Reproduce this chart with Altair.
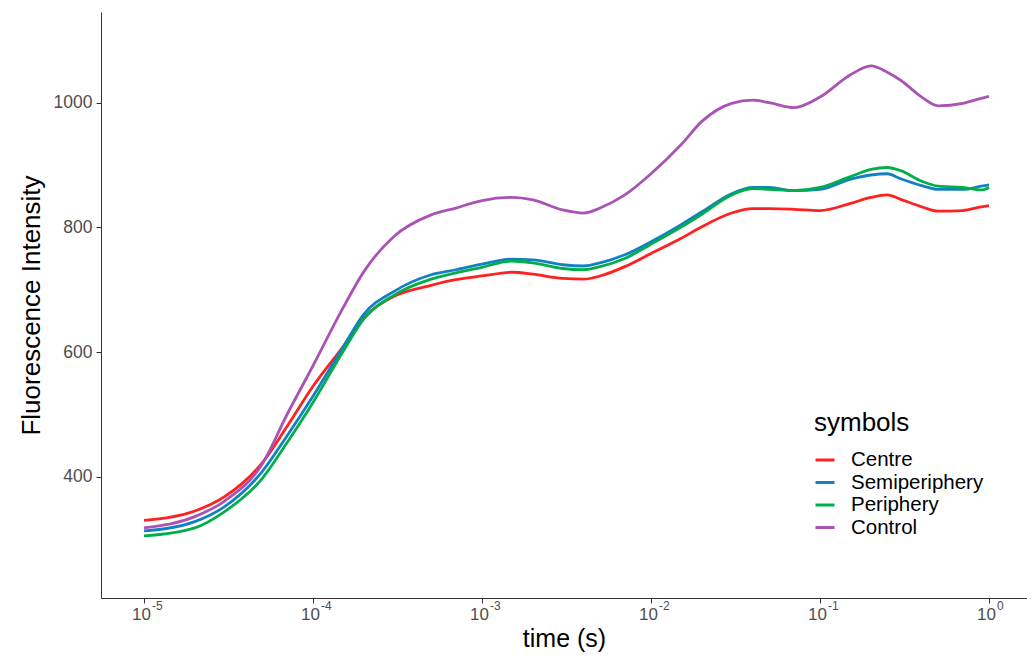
import altair as alt
import pandas as pd

# time points (s)
times = [1e-5, 2e-5, 3e-5, 5e-5, 7e-5, 1e-4, 1.5e-4, 2e-4, 3e-4, 5e-4, 7e-4,
         1e-3, 1.5e-3, 2e-3, 3e-3, 4e-3, 5e-3, 7e-3, 1e-2, 1.5e-2, 2e-2, 3e-2,
         4e-2, 5e-2, 7e-2, 1e-1, 1.5e-1, 2e-1, 2.5e-1, 3e-1, 4e-1, 5e-1, 7e-1,
         0.9, 1.0]

centre = [330, 345, 368, 422, 480, 545, 608, 655, 689, 707, 716,
          722, 728, 725, 718, 717, 722, 737, 758, 782, 801, 823,
          830, 830, 829, 827, 838, 848, 852, 845, 833, 826, 827,
          833, 835]

semiperiphery = [313, 328, 352, 408, 465, 529, 607, 661, 697, 724, 732,
                 741, 749, 748, 740, 738, 743, 756, 777, 804, 825, 854,
                 864, 864, 859, 861, 877, 884, 886, 878, 867, 861, 861,
                 866, 868]

periphery = [305, 318, 344, 397, 454, 519, 600, 653, 691, 717, 727,
             736, 746, 743, 734, 732, 737, 750, 773, 800, 821, 852,
             862, 861, 859, 864, 881, 893, 896, 891, 874, 866, 864,
             860, 864]

control = [318, 336, 361, 420, 499, 578, 670, 729, 785, 820, 831,
           843, 848, 844, 828, 823, 831, 852, 886, 932, 970, 999,
           1004, 1000, 992, 1009, 1044, 1059, 1049, 1036, 1009, 995, 999,
           1007, 1010]

series_names = ["Centre", "Semiperiphery", "Periphery", "Control"]
series_colors = ["#FF2020", "#1480C4", "#00AF4A", "#A953B4"]
x_ticks = [1e-5, 1e-4, 1e-3, 1e-2, 1e-1, 1.0]
x_tick_base = ["10", "10", "10", "10", "10", "10"]
x_tick_exp = ["-5", "-4", "-3", "-2", "-1", "0"]
y_ticks = [400, 600, 800, 1000]

PLOT_W, PLOT_H = 926, 586

rows = []
for name, vals in zip(series_names, [centre, semiperiphery, periphery, control]):
    for t, v in zip(times, vals):
        rows.append({"time": t, "value": v, "symbols": name})
df = pd.DataFrame(rows)

ticks_df = pd.DataFrame({"time": x_ticks, "base": x_tick_base, "exp": x_tick_exp})

x_scale = alt.Scale(type="log", domain=[10 ** -5.2544, 10 ** 0.2248], nice=False)
y_scale = alt.Scale(domain=[205.4, 1145.5], nice=False, zero=False)

lines = alt.Chart(df).mark_line(strokeWidth=2.8, interpolate="monotone").encode(
    x=alt.X("time:Q", scale=x_scale,
            axis=alt.Axis(values=x_ticks, labels=False, title="time (s)",
                          grid=False, tickSize=5, titlePadding=23,
                          titleFontSize=25, titleColor="#000000",
                          domainColor="#333333", tickColor="#333333",
                          titleFontWeight="normal")),
    y=alt.Y("value:Q", scale=y_scale,
            axis=alt.Axis(values=y_ticks, format="d", title="Fluorescence Intensity",
                          grid=False, tickSize=5, labelPadding=4, titlePadding=9,
                          labelFontSize=17.5, titleFontSize=26, labelColor="#4D4D4D",
                          titleColor="#000000", domainColor="#333333", tickColor="#333333",
                          titleFontWeight="normal", labelFlush=False)),
    color=alt.Color("symbols:N",
                    scale=alt.Scale(domain=series_names, range=series_colors),
                    legend=alt.Legend(orient="none", legendX=713, legendY=398,
                                      title="symbols", titleFontSize=26,
                                      titleFontWeight="normal", titleColor="#000000",
                                      labelFontSize=20.5, labelColor="#000000",
                                      symbolType="stroke", symbolSize=361,
                                      symbolStrokeWidth=3, labelOffset=15,
                                      rowPadding=0.5, titlePadding=13)),
)

tick_base = alt.Chart(ticks_df).mark_text(
    fontSize=17, color="#4D4D4D", align="right", baseline="middle", dx=7
).encode(
    x=alt.X("time:Q", scale=x_scale),
    y=alt.value(PLOT_H + 17),
    text="base:N",
)

tick_exp = alt.Chart(ticks_df).mark_text(
    fontSize=12, color="#4D4D4D", align="left", baseline="middle", dx=8
).encode(
    x=alt.X("time:Q", scale=x_scale),
    y=alt.value(PLOT_H + 8),
    text="exp:N",
)

chart = alt.layer(lines, tick_base, tick_exp).properties(
    width=PLOT_W, height=PLOT_H,
    autosize=alt.AutoSizeParams(type="none"),
    padding={"left": 93, "top": 4, "right": 0, "bottom": 55},
).configure(
    font="Liberation Sans",
).configure_view(stroke=None)

chart.save("out.html", embed_options={"renderer": "svg", "actions": False})
